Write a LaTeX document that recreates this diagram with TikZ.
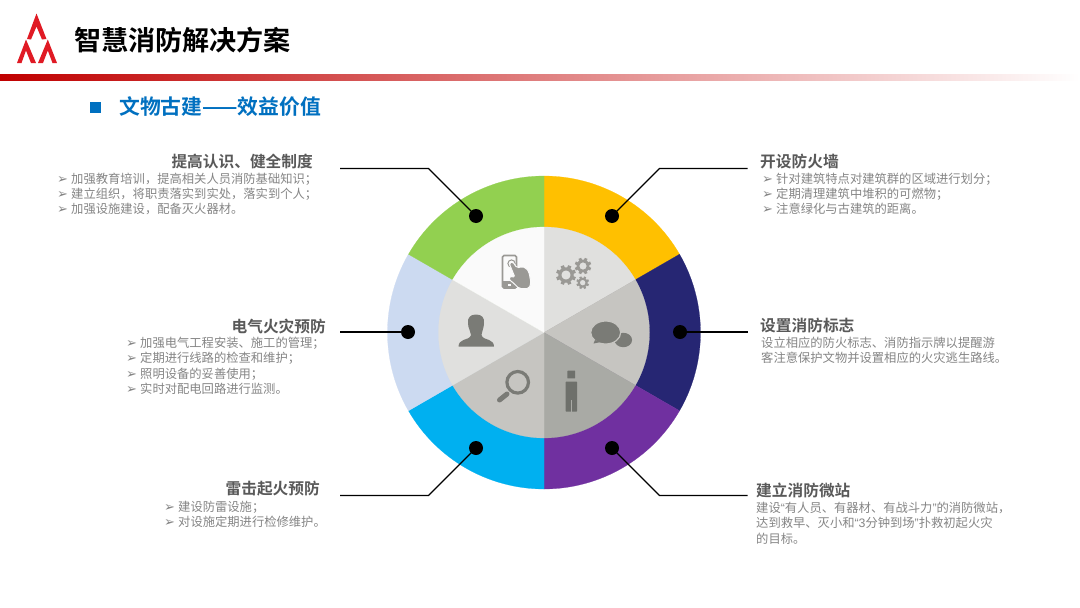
\documentclass[tikz,border=0pt]{standalone}
\usepackage{fontspec}
\setmainfont{Noto Sans CJK SC}
\newfontfamily\boldcjk{Noto Sans CJK SC Bold}
\newfontfamily\symf{DejaVu Sans}
\newfontfamily\latinf{Liberation Sans}
\usetikzlibrary{calc}
\definecolor{txtgray}{HTML}{858585}
\definecolor{headgray}{HTML}{595959}
\definecolor{iconA}{HTML}{9A9995}
\definecolor{iconB}{HTML}{7A7B76}
\definecolor{iconC}{HTML}{6E706B}
\definecolor{logored}{HTML}{E01A24}
\definecolor{barred}{HTML}{C00000}
\definecolor{titleblue}{HTML}{0070C0}
\definecolor{cyellow}{HTML}{FFC000}
\definecolor{cnavy}{HTML}{262673}
\definecolor{cpurple}{HTML}{7030A0}
\definecolor{ccyan}{HTML}{00B0F0}
\definecolor{clight}{HTML}{CCDAF1}
\definecolor{cgreen}{HTML}{92D050}
\definecolor{hubA}{HTML}{FAFAFA}
\definecolor{hubB}{HTML}{E0E0DE}
\definecolor{hubC}{HTML}{C6C5C1}
\definecolor{hubD}{HTML}{A9AAA5}
\newcommand{\wedgefill}[3]{\fill[#3,draw=#3,line width=.2pt] (544,332.5) -- ++(#1:156.5) arc[start angle=#1,end angle=#2,radius=156.5] -- cycle;}
\newcommand{\hubfill}[3]{\fill[#3,draw=#3,line width=.2pt] (544,332.5) -- ++(#1:105.5) arc[start angle=#1,end angle=#2,radius=105.5] -- cycle;}
\newcommand{\cog}[3]{%
 \draw[iconA,line width=#3*.38pt] (#1,#2) circle[radius=#3*.74];
 \foreach \a in {0,45,...,315} \draw[iconA,line width=#3*.42pt] ($(#1,#2)+(\a+22.5:#3*.8)$) -- ($(#1,#2)+(\a+22.5:#3*1.2)$);
}
\tikzset{
 x=1pt,y=1pt,
 lead/.style={draw=black,line width=1.1pt},
 dotm/.style={circle,fill=black,inner sep=0pt,minimum size=14pt},
 headl/.style={font=\boldcjk\fontsize{15.7}{16}\selectfont,text=headgray,inner sep=0pt,anchor=east},
 headr/.style={font=\boldcjk\fontsize{15.7}{16}\selectfont,text=headgray,inner sep=0pt,anchor=west},
 body/.style={font=\fontsize{12.3}{15.3}\selectfont,text=txtgray,inner sep=0pt,anchor=north west,align=left},
}
\newcommand{\bl}{\makebox[14pt][l]{{\symf\fontsize{13}{13}\selectfont ➢}}}
\newcommand{\oq}{{\latinf “}}
\newcommand{\cq}{{\latinf ”}}
\begin{document}
\begin{tikzpicture}[yscale=-1]
\useasboundingbox (0,0) rectangle (1080,608);
\fill[white] (0,0) rectangle (1080,608);
% logo
\fill[logored] (36.5,13.5) -- (46.5,39) -- (42,39.5) -- (36.5,26.5) -- (31,39.5) -- (27,39) -- cycle;
\fill[logored] (26,39.5) -- (36,63) -- (31,63) -- (26,50.5) -- (21.5,63) -- (17,63) -- cycle;
\fill[logored] (47.8,39.5) -- (57,63) -- (52.5,63) -- (47.8,50.5) -- (43,63) -- (38,63) -- cycle;
% title
\node[font=\boldcjk\fontsize{27.1}{27}\selectfont,text=black,inner sep=0pt,anchor=west] (title) at (74,40) {智慧消防解决方案};
\shade[left color=barred,right color=white] (0,74) rectangle (1080,80.5);
\fill[titleblue] (90,102) rectangle (101,113);
\node[font=\boldcjk\fontsize{20.8}{21}\selectfont,text=titleblue,inner sep=0pt,anchor=west] (sub) at (119,107) {文物古建——效益价值};
% ring
\wedgefill{-90}{-30}{cyellow}
\wedgefill{-30}{30}{cnavy}
\wedgefill{30}{90}{cpurple}
\wedgefill{90}{150}{ccyan}
\wedgefill{150}{210}{clight}
\wedgefill{210}{270}{cgreen}
% hub
\hubfill{-90}{-30}{hubB}
\hubfill{-30}{30}{hubC}
\hubfill{30}{90}{hubD}
\hubfill{90}{150}{hubC}
\hubfill{150}{210}{hubB}
\hubfill{210}{270}{hubA}
% phone and hand
\draw[iconA,line width=1.6pt,rounded corners=1.5pt,fill=hubA] (502.5,255.5) rectangle (516.5,288);
\fill[iconA] (502.5,281) rectangle (516.5,288);
\fill[hubA] (507.5,283.5) rectangle (511,285.5);
\draw[iconA,line width=1pt] (511.5,263.5) circle[radius=3.6];
\draw[hubA,line width=1pt,fill=iconA,rounded corners=1.8pt] (509,263) -- (512.5,261.5) -- (517,268) -- (522,266.5) -- (526,268) -- (529,272) -- (531,283) -- (529,288.5) -- (519,288.5) -- (514,283.5) -- (508.5,279) -- (510,276) -- (515,277.5) -- cycle;
% cogs
\cog{566}{275}{8.3}
\cog{583}{266}{6.9}
\cog{582.7}{282.7}{5.3}
% chat
\fill[iconB] (623.3,340) ellipse[x radius=8.8,y radius=7.2];
\fill[iconB,draw=hubC,line width=1.2pt] (605.7,332.5) ellipse[x radius=15,y radius=11.5];
\fill[iconB] (595,340) -- (593.5,343.5) -- (601,342) -- cycle;
% bust
\fill[iconB] (476,314.5) .. controls (482,314.5) and (484.5,318) .. (484,323) .. controls (484,329) and (481.5,331) .. (481.5,335) .. controls (482,338) and (486,339) .. (489,340) .. controls (492,341) and (494,343) .. (494,346.7) -- (458.5,346.7) .. controls (458.5,343) and (460.5,341) .. (463.5,340) .. controls (466.5,339) and (470.5,338) .. (471,335) .. controls (471,331) and (468,329) .. (468,323) .. controls (467.5,318) and (470,314.5) .. (476,314.5) -- cycle;
% magnifier
\draw[iconB,line width=3.2pt] (517.7,382.3) circle[radius=10.8];
\draw[iconB,line width=5pt,line cap=round] (499.5,400) -- (507,394);
% standing figure
\fill[iconC,rounded corners=.5pt] (567.3,370.7) rectangle (575.2,378.4);
\fill[iconC,rounded corners=.5pt] (565.7,381.7) rectangle (577,411.7);
\fill[hubD] (571,400) rectangle (571.8,412);
% connectors
\node[dotm] (d1) at (476,216) {};
\node[dotm] (d2) at (612,216) {};
\node[dotm] (d3) at (680,332) {};
\node[dotm] (d4) at (612,448) {};
\node[dotm] (d5) at (476,448) {};
\node[dotm] (d6) at (408,332) {};
\coordinate (e1) at (340,168.5);
\coordinate (e2) at (747.5,168.5);
\coordinate (e3) at (747.5,332);
\coordinate (e4) at (747.5,495.5);
\coordinate (e5) at (340,495.5);
\coordinate (e6) at (340,332);
\coordinate (b1) at (428.5,168.5);
\coordinate (b2) at (659.5,168.5);
\coordinate (b4) at (659.5,495.5);
\coordinate (b5) at (428.5,495.5);
\draw[lead] (d1.center) -- (b1) -- (e1);
\draw[lead] (d2.center) -- (b2) -- (e2);
\draw[lead] (d3.center) -- (e3);
\draw[lead] (d4.center) -- (b4) -- (e4);
\draw[lead] (d5.center) -- (b5) -- (e5);
\draw[lead] (d6.center) -- (e6);
% texts
\node[headl] (h1) at (313,161.5) {提高认识、健全制度};
\node[body] (t1) at (57,172.5) {\bl 加强教育培训，提高相关人员消防基础知识；\\\bl 建立组织，将职责落实到实处，落实到个人；\\\bl 加强设施建设，配备灭火器材。};
\node[headl] (h6) at (326,326) {电气火灾预防};
\node[body] (t6) at (126,337) {\bl 加强电气工程安装、施工的管理；\\\bl 定期进行线路的检查和维护；\\\bl 照明设备的妥善使用；\\\bl 实时对配电回路进行监测。};
\node[headl] (h5) at (320,489) {雷击起火预防};
\node[body] (t5) at (164,501) {\bl 建设防雷设施；\\\bl 对设施定期进行检修维护。};
\node[headr] (h2) at (760,161.5) {开设防火墙};
\node[body] (t2) at (762,172.5) {\bl 针对建筑特点对建筑群的区域进行划分；\\\bl 定期清理建筑中堆积的可燃物；\\\bl 注意绿化与古建筑的距离。};
\node[headr] (h3) at (760,325) {设置消防标志};
\node[body] (t3) at (761,337) {设立相应的防火标志、消防指示牌以提醒游\\客注意保护文物并设置相应的火灾逃生路线。};
\node[headr] (h4) at (756,490.5) {建立消防微站};
\node[body] (t4) at (756,502) {建设\oq 有人员、有器材、有战斗力\cq 的消防微站，\\达到救早、灭小和\oq{\latinf 3}分钟到场\cq 扑救初起火灾\\的目标。};
\end{tikzpicture}
\end{document}
